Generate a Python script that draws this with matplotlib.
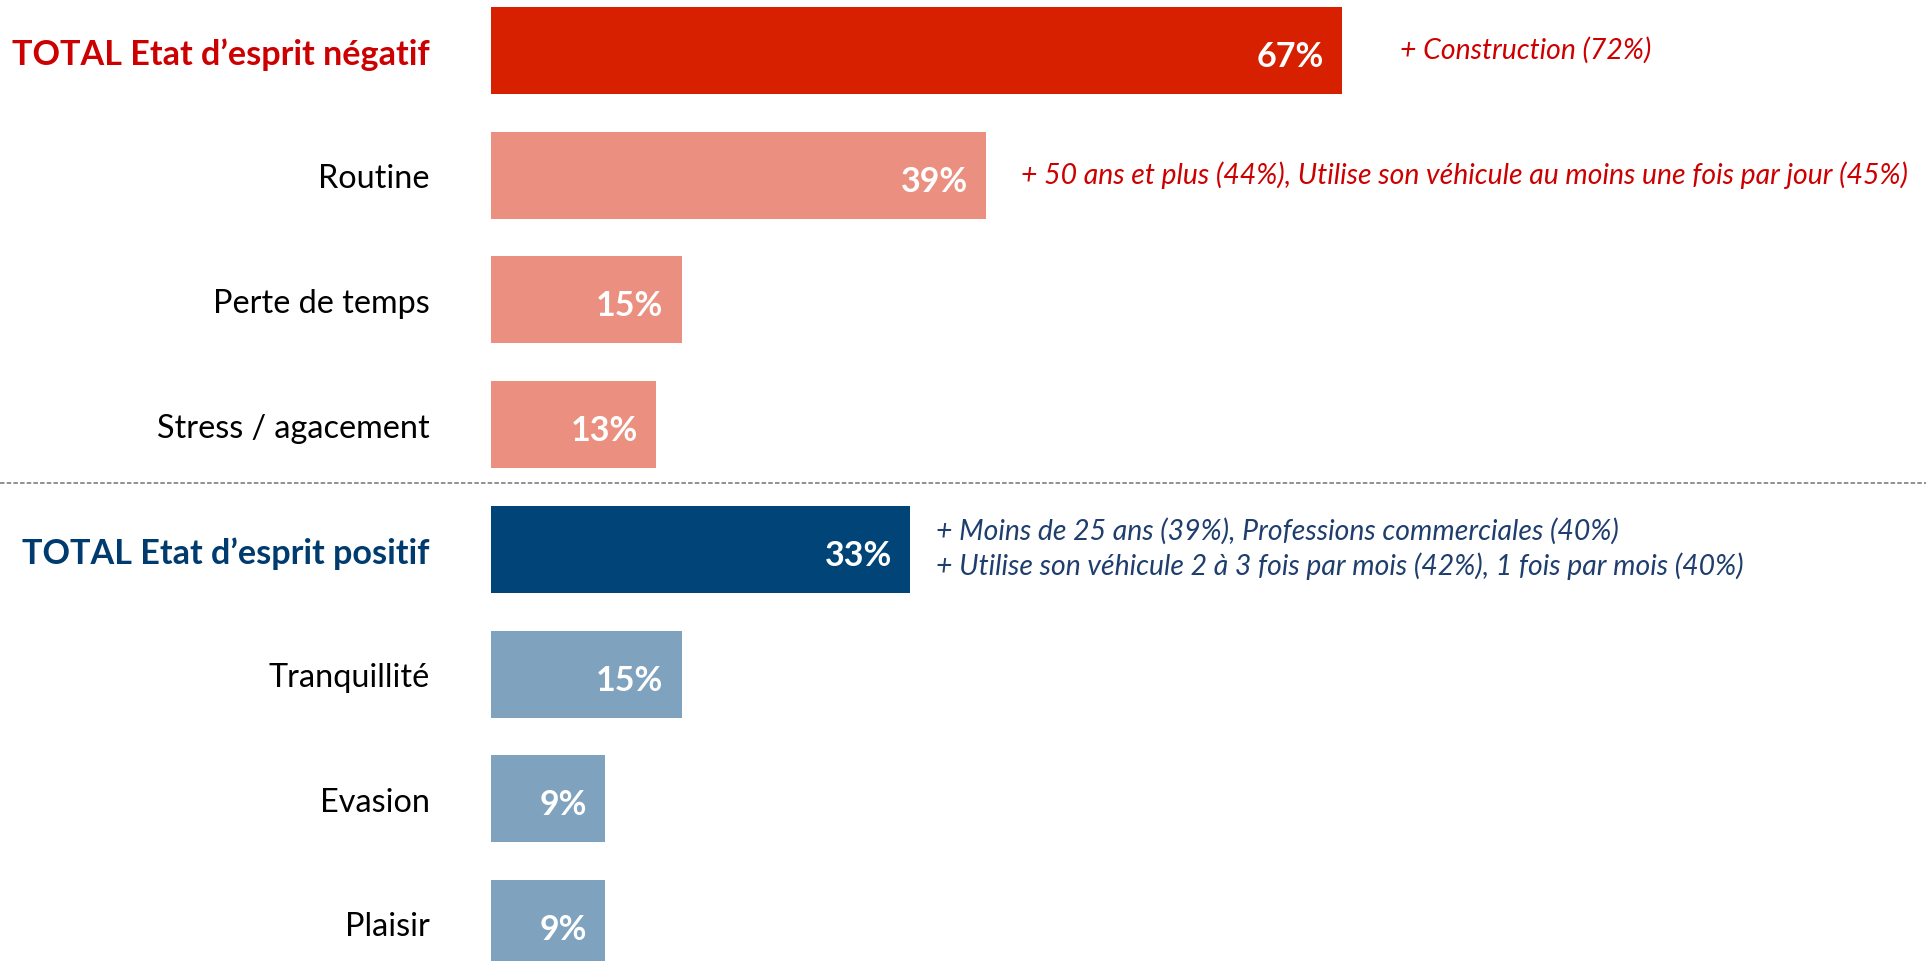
import matplotlib.pyplot as plt
from matplotlib.transforms import blended_transform_factory

# -----------------------------
# data
# -----------------------------
categories = [
    "TOTAL Etat d’esprit négatif",
    "Routine",
    "Perte de temps",
    "Stress / agacement",
    "TOTAL Etat d’esprit positif",
    "Tranquillité",
    "Evasion",
    "Plaisir",
]
values = [67, 39, 15, 13, 33, 15, 9, 9]
is_total = [True, False, False, False, True, False, False, False]
notes = [
    "+ Construction (72%)",
    "+ 50 ans et plus (44%), Utilise son véhicule au moins une fois par jour (45%)",
    "", "",
    "+ Moins de 25 ans (39%), Professions commerciales (40%)\n"
    "+ Utilise son véhicule 2 à 3 fois par mois (42%), 1 fois par mois (40%)",
    "", "", "",
]

# styles
bar_colors = ["#D62000", "#EB8F80", "#EB8F80", "#EB8F80",
              "#004478", "#7FA2BE", "#7FA2BE", "#7FA2BE"]
label_colors = ["#CC0000", "black", "black", "black",
                "#003B6F", "black", "black", "black"]
note_colors = ["#CC0000", "#CC0000", None, None, "#1F3E6E", None, None, None]
note_offsets = [58, 35, 0, 0, 26, 0, 0, 0]  # px from bar end

plt.rcParams["font.family"] = ["Lato", "DejaVu Sans"]

W, H = 1926, 962
fig = plt.figure(figsize=(W / 100, H / 100), dpi=100)

x0 = 491          # px where the bars start
px_per_pct = 12.7
top_c = 51.5      # px centre of first bar
pitch = 124.7     # px between bars

ax = fig.add_axes([x0 / W, 0, 1 - x0 / W, 1])
ax.set_xlim(0, (W - x0) / px_per_pct)
ax.set_ylim((H - top_c) / pitch, -top_c / pitch)

ypos = list(range(len(categories)))
ax.barh(ypos, values, height=87 / pitch, color=bar_colors, edgecolor="none")

# value labels inside bars
for y, v in zip(ypos, values):
    ax.annotate(f"{v}%", (v, y), xytext=(-13, -4), textcoords="offset points",
                ha="right", va="center", color="white", fontsize=24.5,
                fontweight="bold")

# category labels
ax.set_yticks(ypos)
ax.set_yticklabels(categories)
ax.tick_params(axis="y", length=0, pad=44)
for lab, tot, c in zip(ax.get_yticklabels(), is_total, label_colors):
    lab.set_color(c)
    if tot:
        lab.set_fontweight("bold")
        lab.set_fontsize(24.6)
    else:
        lab.set_fontsize(23.3)
ax.set_xticks([])
for s in ax.spines.values():
    s.set_visible(False)

# notes
for y, v, n, c, off in zip(ypos, values, notes, note_colors, note_offsets):
    if n:
        ax.annotate(n, (v, y), xytext=(off * 0.72, 1), textcoords="offset points",
                    ha="left", va="center", color=c, fontsize=20.4,
                    fontstyle="italic", linespacing=1.3)

# divider between negative and positive blocks
tr = blended_transform_factory(fig.transFigure, ax.transData)
ax.plot([0, 1], [3.47, 3.47], transform=tr, color="#888888", lw=1.3,
        ls=(0, (2.5, 1.2)), clip_on=False)

fig.savefig("out.png", dpi=100)
